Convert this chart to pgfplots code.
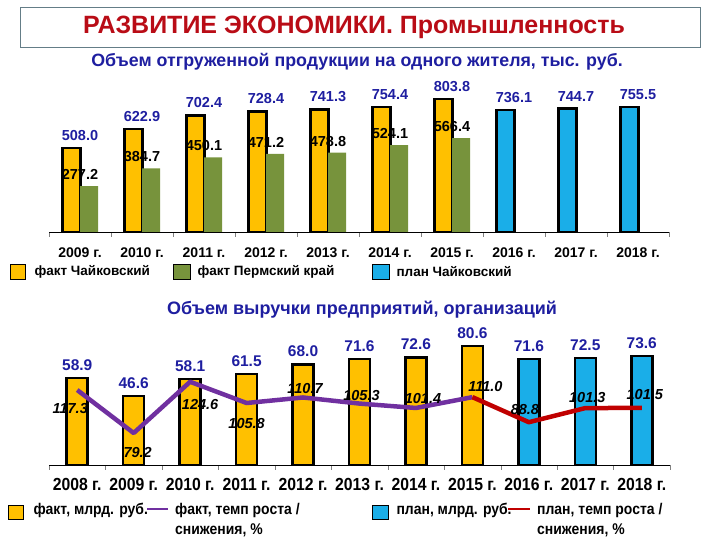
\documentclass[border=0pt]{standalone}
\usepackage{pgfplots}
\pgfplotsset{compat=1.18}
\usepackage{pgfplotstable}
\usepackage{fontspec}
\setmainfont{Liberation Sans}
\newfontfamily\narrow[FakeStretch=0.9]{Liberation Sans}

\definecolor{fakt}{HTML}{FFC000}
\definecolor{perm}{HTML}{77933C}
\definecolor{plan}{HTML}{1AAEE8}
\definecolor{navy}{RGB}{30,30,160}
\definecolor{titlered}{RGB}{185,12,22}
\definecolor{boxc}{RGB}{100,125,135}
\definecolor{lfakt}{HTML}{7030A0}
\definecolor{lplan}{HTML}{C00000}

% bottom chart: growth rate, %
\pgfplotstableread{
x y lab dx dy
0 117.3 117.3 -7 -18
1 79.2 79.2 4 -19
2 124.6 124.6 10 -23
3 105.8 105.8 0 -20
4 110.7 110.7 2 9
5 105.3 105.3 2 8
6 101.4 101.4 7 9
7 111.0 111.0 13 11
}\faktrate
\pgfplotstableread{
x y lab dx dy
8 88.8 88.8 -4 13
9 101.3 101.3 2 11
10 101.5 101.5 3 13
}\planrate

\begin{document}
\begin{tikzpicture}[x=1pt,y=1pt]
\path (0,0) rectangle (720,540);

% title
\draw[boxc, line width=0.8pt] (20,493) rectangle (700,533);
\node[font=\bfseries\fontsize{25}{27}\selectfont, text=titlered] at (354,513) {РАЗВИТИЕ ЭКОНОМИКИ. Промышленность};
\node[font=\bfseries\fontsize{17.8}{19}\selectfont, text=navy] at (357,478) {Объем отгруженной продукции на одного жителя, тыс. руб.};

% ---------- top chart ----------
\begin{axis}[
  at={(49pt,308pt)}, anchor=south west,
  scale only axis, width=620pt, height=149pt,
  xmin=-0.5, xmax=9.5, ymin=0, ymax=900,
  axis x line*=bottom, axis y line=none,
  xtick={0,...,9},
  xticklabels={2009 г.,2010 г.,2011 г.,2012 г.,2013 г.,2014 г.,2015 г.,2016 г.,2017 г.,2018 г.},
  major tick length=0pt,
  minor xtick={-0.5,0.5,...,9.5},
  minor tick length=5pt, tick align=outside,
  x tick label style={font=\bfseries\fontsize{14}{15}\selectfont, yshift=-12pt},
  axis line style={black, line width=0.8pt},
  clip=false,
  point meta=explicit symbolic,
]
\addplot[ybar, bar width=18pt, bar shift=-8.5pt, fill=fakt, draw=black, line width=2.5pt,
  nodes near coords,
  every node near coord/.append style={font=\bfseries\fontsize{14.5}{15}\selectfont, text=navy, yshift=3pt}]
  coordinates {(0,508.0)[508.0] (1,622.9)[622.9] (2,702.4)[702.4] (3,728.4)[728.4] (4,741.3)[741.3] (5,754.4)[754.4] (6,803.8)[803.8]};
\addplot[ybar, bar width=18pt, bar shift=9pt, fill=perm, draw=none,
  nodes near coords,
  every node near coord/.append style={font=\bfseries\fontsize{14.5}{15}\selectfont, text=black, yshift=3pt}]
  coordinates {(0,277.2)[277.2] (1,384.7)[384.7] (2,450.1)[450.1] (3,471.2)[471.2] (4,478.8)[478.8] (5,524.1)[524.1] (6,566.4)[566.4]};
\addplot[ybar, bar width=18pt, bar shift=-8.5pt, fill=plan, draw=black, line width=2.5pt,
  nodes near coords,
  every node near coord/.append style={font=\bfseries\fontsize{14.5}{15}\selectfont, text=navy, yshift=3pt}]
  coordinates {(7,736.1)[736.1] (8,744.7)[744.7] (9,755.5)[755.5]};
\end{axis}

% top legend
\draw[black, line width=0.4pt, fill=fakt] (10,261) rectangle (25,276);
\node[anchor=west, font=\bfseries\fontsize{13.5}{14}\selectfont] at (31,268) {факт Чайковский};
\draw[black, line width=0.4pt, fill=perm] (173,261) rectangle (190,276);
\node[anchor=west, font=\bfseries\fontsize{13.5}{14}\selectfont] at (194,268) {факт Пермский край};
\draw[black, line width=0.4pt, fill=plan] (372,261) rectangle (389,276);
\node[anchor=west, font=\bfseries\fontsize{13.5}{14}\selectfont] at (393,268) {план Чайковский};

% ---------- bottom chart ----------
\node[font=\bfseries\fontsize{18}{20}\selectfont, text=navy] at (362,230) {Объем выручки предприятий, организаций};

\begin{axis}[
  at={(49pt,75pt)}, anchor=south west,
  scale only axis, width=621pt, height=133pt,
  xmin=-0.5, xmax=10.5, ymin=0, ymax=90,
  axis x line*=bottom, axis y line=none,
  xtick={0,...,10},
  xticklabels={2008 г.,2009 г.,2010 г.,2011 г.,2012 г.,2013 г.,2014 г.,2015 г.,2016 г.,2017 г.,2018 г.},
  major tick length=0pt,
  minor xtick={-0.5,0.5,...,10.5},
  minor tick length=5pt, tick align=outside,
  x tick label style={font=\narrow\bfseries\fontsize{17.5}{18}\selectfont, yshift=-10pt},
  axis line style={black, line width=0.8pt},
  clip=false,
  point meta=explicit symbolic,
]
\addplot[ybar, bar width=21pt, bar shift=0pt, fill=fakt, draw=black, line width=2.5pt,
  nodes near coords,
  every node near coord/.append style={font=\bfseries\fontsize{15.5}{16}\selectfont, text=navy, yshift=3pt}]
  coordinates {(0,58.9)[58.9] (1,46.6)[46.6] (2,58.1)[58.1] (3,61.5)[61.5] (4,68.0)[68.0] (5,71.6)[71.6] (6,72.6)[72.6] (7,80.6)[80.6]};
\addplot[ybar, bar width=21pt, bar shift=0pt, fill=plan, draw=black, line width=2.5pt,
  nodes near coords,
  every node near coord/.append style={font=\bfseries\fontsize{15.5}{16}\selectfont, text=navy, yshift=3pt}]
  coordinates {(8,71.6)[71.6] (9,72.5)[72.5] (10,73.6)[73.6]};
\end{axis}

\begin{axis}[
  at={(49pt,75pt)}, anchor=south west,
  scale only axis, width=621pt, height=133pt,
  xmin=-0.5, xmax=10.5, ymin=50.9, ymax=168.7,
  hide axis, clip=false,
  point meta=explicit symbolic,
]
\addplot[lfakt, line width=4.5pt, mark=none, line join=round,
  nodes near coords,
  visualization depends on={\thisrow{dx} \as \dx},
  visualization depends on={\thisrow{dy} \as \dy},
  every node near coord/.append style={anchor=center, xshift=\dx pt, yshift=\dy pt, text=black,
    font=\bfseries\itshape\fontsize{14.5}{15}\selectfont}]
  table[x=x, y=y, meta=lab] {\faktrate};
\addplot[lplan, line width=4.5pt, mark=none, line join=round] coordinates {(7,111.0) (8,88.8) (9,101.3) (10,101.5)};
\addplot[draw=none, mark=none,
  nodes near coords,
  visualization depends on={\thisrow{dx} \as \dx},
  visualization depends on={\thisrow{dy} \as \dy},
  every node near coord/.append style={anchor=center, xshift=\dx pt, yshift=\dy pt, text=black,
    font=\bfseries\itshape\fontsize{14.5}{15}\selectfont}]
  table[x=x, y=y, meta=lab] {\planrate};
\end{axis}

% bottom legend
\draw[black, line width=0.4pt, fill=fakt] (8,21) rectangle (23,35);
\node[anchor=west, font=\narrow\bfseries\fontsize{15.5}{16}\selectfont] at (30,30) {факт, млрд. руб.};
\draw[lfakt, line width=2.5pt] (147,31) -- (168,31);
\node[anchor=north west, align=left, font=\narrow\bfseries\fontsize{15.5}{20}\selectfont, inner sep=0pt] at (175,37) {факт, темп роста /\\снижения, \%};
\draw[black, line width=0.4pt, fill=plan] (372,21) rectangle (388,35);
\node[anchor=west, font=\narrow\bfseries\fontsize{15.5}{16}\selectfont] at (393,30) {план, млрд. руб.};
\draw[lplan, line width=2.5pt] (508,31) -- (530,31);
\node[anchor=north west, align=left, font=\narrow\bfseries\fontsize{15.5}{20}\selectfont, inner sep=0pt] at (537,37) {план, темп роста /\\снижения, \%};
\end{tikzpicture}
\end{document}
